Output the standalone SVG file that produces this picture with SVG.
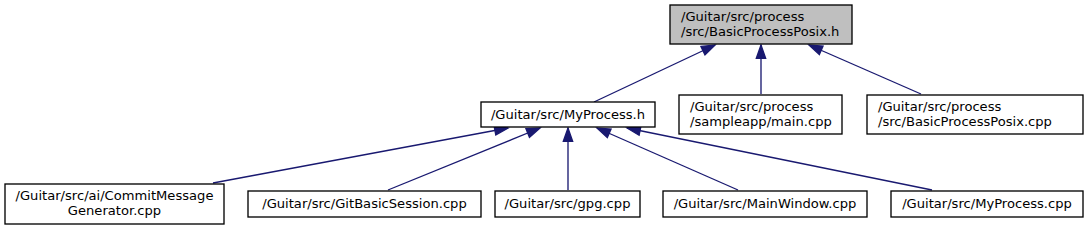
<svg xmlns="http://www.w3.org/2000/svg" width="1087" height="231" viewBox="0 0 1087 231">
<style>
.node rect{fill:#ffffff;stroke:#000000;stroke-width:1.33}
.node rect.cur{fill:#bfbfbf}
text{font-family:"DejaVu Sans","Liberation Sans",sans-serif;font-size:13.1px;fill:#000000}
.c{text-anchor:middle}
.edges line{stroke:#191970;stroke-width:1.33;marker-end:url(#ah)}
</style>
<defs>
<marker id="ah" markerUnits="userSpaceOnUse" markerWidth="20" markerHeight="20" viewBox="-2 -8 20 16" refX="13.3" refY="0" orient="auto" overflow="visible">
<path d="M0,-4.67 L13.3,0 L0,4.67 Z" fill="#191970" stroke="#191970" stroke-width="1.33"/>
</marker>
</defs>
<rect width="1087" height="231" fill="#ffffff"/>
<g id="edges" class="edges">
<line x1="594" y1="102" x2="715" y2="45"/>
<line x1="761" y1="94" x2="761" y2="45"/>
<line x1="921" y1="94" x2="809" y2="45"/>
<line x1="213" y1="183" x2="508" y2="128"/>
<line x1="388" y1="190" x2="540" y2="128"/>
<line x1="568" y1="190" x2="568" y2="128"/>
<line x1="738" y1="190" x2="597" y2="128"/>
<line x1="932" y1="190" x2="627" y2="128"/>
</g>
<g id="node_BasicProcessPosix_h" class="node">
<rect class="cur" x="670" y="5" width="182" height="39"/>
<text x="681" y="21">/Guitar/src/process</text>
<text x="681" y="36">/src/BasicProcessPosix.h</text>
</g>
<g id="node_MyProcess_h" class="node">
<rect x="481" y="102" width="174" height="25"/>
<text class="c" x="568" y="118.5">/Guitar/src/MyProcess.h</text>
</g>
<g id="node_main_cpp" class="node">
<rect x="679" y="95" width="163" height="39"/>
<text x="690" y="111">/Guitar/src/process</text>
<text x="690" y="126">/sampleapp/main.cpp</text>
</g>
<g id="node_BasicProcessPosix_cpp" class="node">
<rect x="867" y="95" width="216" height="39"/>
<text x="878" y="111">/Guitar/src/process</text>
<text x="878" y="126">/src/BasicProcessPosix.cpp</text>
</g>
<g id="node_CommitMessageGenerator_cpp" class="node">
<rect x="5" y="184" width="219" height="40"/>
<text class="c" x="114.5" y="200">/Guitar/src/ai/CommitMessage</text>
<text class="c" x="114.5" y="215">Generator.cpp</text>
</g>
<g id="node_GitBasicSession_cpp" class="node">
<rect x="248" y="191" width="233" height="26"/>
<text class="c" x="364.5" y="207.5">/Guitar/src/GitBasicSession.cpp</text>
</g>
<g id="node_gpg_cpp" class="node">
<rect x="495" y="191" width="145" height="26"/>
<text class="c" x="567.5" y="207.5">/Guitar/src/gpg.cpp</text>
</g>
<g id="node_MainWindow_cpp" class="node">
<rect x="663" y="191" width="204" height="26"/>
<text class="c" x="765" y="207.5">/Guitar/src/MainWindow.cpp</text>
</g>
<g id="node_MyProcess_cpp" class="node">
<rect x="891" y="191" width="192" height="26"/>
<text class="c" x="987" y="207.5">/Guitar/src/MyProcess.cpp</text>
</g>
</svg>
